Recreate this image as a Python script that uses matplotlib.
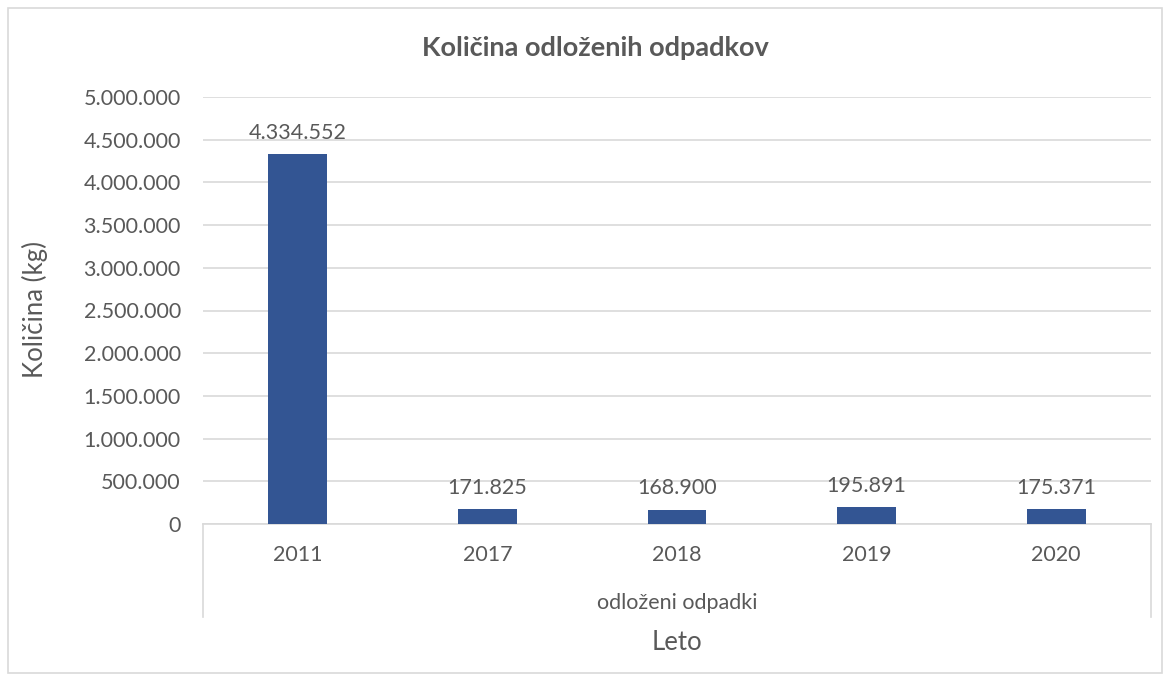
import matplotlib
matplotlib.use("Agg")
import matplotlib.pyplot as plt
from matplotlib.ticker import FuncFormatter, MultipleLocator
from matplotlib.patches import Rectangle

years = ["2011", "2017", "2018", "2019", "2020"]
values = [4334552, 171825, 168900, 195891, 175371]
group_label = "odloženi odpadki"
title = "Količina odloženih odpadkov"
ylabel = "Količina (kg)"
xlabel = "Leto"

plt.rcParams['font.family'] = ['Lato', 'DejaVu Sans']
txt = '#595959'
grid = '#d9d9d9'
bar_color = '#335593'

def fmt(v):
    return f"{int(round(v)):,}".replace(",", ".")

fig = plt.figure(figsize=(11.7, 6.81), dpi=100)
fig.patches.append(Rectangle((8/1170, 8/681), 1 - 16/1170, 1 - 16/681, transform=fig.transFigure,
                             fill=False, edgecolor=grid, linewidth=1.2))
ax = fig.add_axes([203/1170, 1 - 524/681, (1151 - 203)/1170, (524 - 97)/681])

x = list(range(len(years)))
ax.bar(x, values, width=0.31, color=bar_color, zorder=3)
ax.set_xlim(-0.5, len(years) - 0.5)
ax.set_ylim(0, 5000000)
ax.yaxis.set_major_locator(MultipleLocator(500000))
ax.yaxis.set_major_formatter(FuncFormatter(lambda v, p: fmt(v)))
ax.grid(axis='y', color=grid, linewidth=1.2, zorder=0)
for s in ['top', 'right', 'left']:
    ax.spines[s].set_visible(False)
ax.spines['bottom'].set_color(grid)
ax.spines['bottom'].set_linewidth(1.2)
ax.tick_params(axis='y', length=0, labelsize=15.5, labelcolor=txt, pad=16)
ax.tick_params(axis='x', length=0, labelsize=15.5, labelcolor=txt, pad=15)
ax.set_xticks(x)
ax.set_xticklabels(years)

for xi, v in zip(x, values):
    ax.annotate(fmt(v), (xi, v), xytext=(0, 8), textcoords='offset points',
                ha='center', va='bottom', fontsize=15.5, color=txt)

# multi-level category lines
for xv in [-0.5, len(years) - 0.5]:
    ax.plot([xv, xv], [0, -0.218], transform=ax.get_xaxis_transform(), color=grid,
            linewidth=1.2, clip_on=False)
ax.text(0.5, -0.185, group_label, transform=ax.transAxes, ha='center', va='center',
        fontsize=15.5, color=txt)

fig.text((203 + 1151) / 2 / 1170, 1 - 642 / 681, xlabel, ha='center', va='center', fontsize=18.5, color=txt)
fig.text(35 / 1170, 1 - 310 / 681, ylabel, ha='center', va='center', rotation=90, fontsize=18.5, color=txt)
fig.text(595 / 1170, 1 - 48 / 681, title, ha='center', va='center', fontsize=19.5, fontweight='bold', color=txt)

fig.savefig("out.png", dpi=100)
